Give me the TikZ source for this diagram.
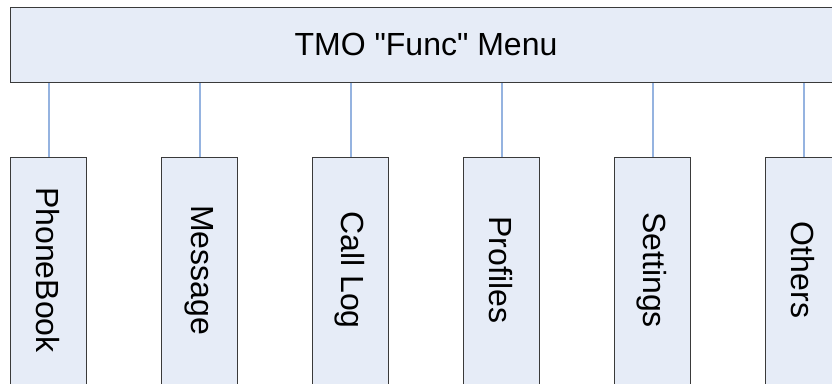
\documentclass[tikz,border=0pt]{standalone}
\usepackage{fontspec}
\setmainfont{Liberation Sans}[Ligatures=TeXOff]
\definecolor{boxfill}{HTML}{E6ECF7}
\definecolor{boxline}{HTML}{3A3A3A}
\definecolor{conn}{HTML}{95B3E0}
\begin{document}
\begin{tikzpicture}[x=1pt,y=-1pt,
  menubox/.style={draw=boxline,line width=1pt,fill=boxfill,rectangle,inner sep=0pt},
  link/.style={draw=conn,line width=2pt},
  lbl/.style={font=\fontsize{32}{36}\selectfont,rotate=-90}]
\useasboundingbox (0,0) rectangle (832,383);
\clip (0,0) rectangle (832,383);
\node[menubox,minimum width=831pt,minimum height=75pt,anchor=north west] (top) at (10,7) {};
\node[font=\fontsize{32}{36}\selectfont] (title) at (426,44.5) {TMO "Func" Menu};
\foreach \i/\t in {0/PhoneBook,1/Message,2/Call Log,3/Profiles,4/Settings,5/Others}{
  \pgfmathsetmacro{\xx}{10+151*\i}
  \node[menubox,minimum width=76pt,minimum height=230pt,anchor=north west] (c\i) at (\xx,157) {};
  \node[lbl] (t\i) at (\xx+38,270) {\t};
  \draw[link] (top.south -| c\i.north) -- (c\i.north);
}
\end{tikzpicture}
\end{document}
